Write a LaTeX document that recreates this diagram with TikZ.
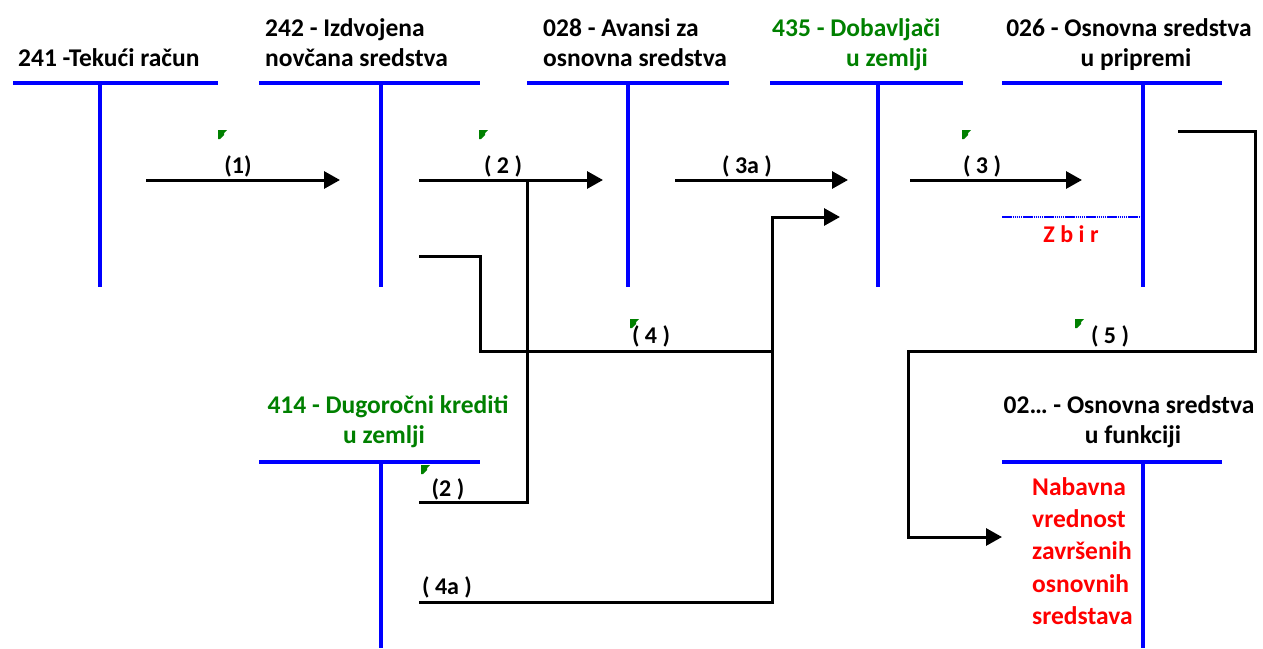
\documentclass[tikz,border=0pt]{standalone}
\usepackage{fontspec}
\setmainfont{Carlito}
\usetikzlibrary{arrows.meta}
\definecolor{tblue}{RGB}{0,0,255}
\definecolor{tgreen}{RGB}{0,128,0}
\definecolor{tred}{RGB}{255,0,0}

\begin{document}
\begin{tikzpicture}[x=1pt,y=-1pt,
  tline/.style={tblue, line width=4pt},
  flow/.style={black, line width=3pt},
  arr/.style={flow, -{Triangle[length=16pt,width=17pt]}},
  title/.style={font=\fontsize{25.5}{30}\selectfont\bfseries, inner sep=0pt},
  lbl/.style={font=\fontsize{24}{26}\selectfont\bfseries, inner sep=0pt},
  flag/.style={fill=tgreen, draw=none},
]
\useasboundingbox (0,0) rectangle (1263,648);

% ---------- T-accounts ----------
% 241
\coordinate (a1l) at (13,83);  \coordinate (a1r) at (218,83);
\coordinate (a1t) at (100,83); \coordinate (a1b) at (100,287);
\draw[tline] (a1l) -- (a1r); \draw[tline] (a1t) -- (a1b);
\node[title, anchor=base west] (t241) at (18,66) {241 -Tekući račun};

% 242
\coordinate (a2l) at (259,83); \coordinate (a2r) at (480,83);
\coordinate (a2t) at (381,83); \coordinate (a2b) at (381,287);
\draw[tline] (a2l) -- (a2r); \draw[tline] (a2t) -- (a2b);
\node[title, anchor=base west] (t242a) at (265,36) {242 - Izdvojena};
\node[title, anchor=base west] (t242b) at (265,66) {novčana sredstva};

% 028
\coordinate (a3l) at (527,83); \coordinate (a3r) at (729,83);
\coordinate (a3t) at (628,83); \coordinate (a3b) at (628,287);
\draw[tline] (a3l) -- (a3r); \draw[tline] (a3t) -- (a3b);
\node[title, anchor=base west] (t028a) at (543,36) {028 - Avansi za};
\node[title, anchor=base west] (t028b) at (543,66) {osnovna sredstva};

% 435
\coordinate (a4l) at (770,83); \coordinate (a4r) at (963,83);
\coordinate (a4t) at (878,83); \coordinate (a4b) at (878,287);
\draw[tline] (a4l) -- (a4r); \draw[tline] (a4t) -- (a4b);
\node[title, text=tgreen, anchor=base west] (t435a) at (772,36) {435 - Dobavljači};
\node[title, text=tgreen, anchor=base west] (t435b) at (846,66) {u zemlji};

% 026
\coordinate (a5l) at (1002,83); \coordinate (a5r) at (1222,83);
\coordinate (a5t) at (1143,83); \coordinate (a5b) at (1143,287);
\draw[tline] (a5l) -- (a5r); \draw[tline] (a5t) -- (a5b);
\node[title, anchor=base] (t026a) at (1129,36) {026 - Osnovna sredstva};
\node[title, anchor=base] (t026b) at (1136,66) {u pripremi};
\coordinate (zl) at (1002,217); \coordinate (zr) at (1143,217);
\draw[tblue, line width=2pt, dash pattern=on 1.5pt off 0.6pt] (zl) -- (zr);
\node[lbl, text=tred, anchor=base] (zbir) at (1071,242) {Z b i r};

% 414
\coordinate (a6l) at (259,462); \coordinate (a6r) at (480,462);
\coordinate (a6t) at (381,462); \coordinate (a6b) at (381,648);
\draw[tline] (a6l) -- (a6r); \draw[tline] (a6t) -- (a6b);
\node[title, text=tgreen, anchor=base] (t414a) at (388,413) {414 - Dugoročni krediti};
\node[title, text=tgreen, anchor=base] (t414b) at (384,443) {u zemlji};

% 02...
\coordinate (a7l) at (1002,462); \coordinate (a7r) at (1222,462);
\coordinate (a7t) at (1143,462); \coordinate (a7b) at (1143,648);
\draw[tline] (a7l) -- (a7r); \draw[tline] (a7t) -- (a7b);
\node[title, anchor=base] (t02a) at (1129,413) {02… - Osnovna sredstva};
\node[title, anchor=base] (t02b) at (1133,443) {u funkciji};
\node[title, text=tred, anchor=north west, align=left,
      font=\fontsize{25.5}{32.3}\selectfont\bfseries] (nab) at (1032,477)
  {Nabavna\\vrednost\\završenih\\osnovnih\\sredstava};

% ---------- Postings ----------
% (1)
\coordinate (p1s) at (146,180); \coordinate (p1e) at (340,180);
\draw[arr] (p1s) -- (p1e);
\node[lbl, anchor=base] (l1) at (238,173) {(1)};

% (2)
\coordinate (p2s) at (419,180); \coordinate (p2e) at (603,180);
\coordinate (p2j) at (527,180); \coordinate (p2c) at (527,502);
\coordinate (p2k) at (419,502);
\draw[arr] (p2s) -- (p2e);
\draw[flow] (p2j) -- (p2c) -- (p2k);
\node[lbl, anchor=base] (l2) at (503,173) {( 2 )};
\node[lbl, anchor=base] (l2b) at (448,496) {(2 )};

% (3a)
\coordinate (p3as) at (675,180); \coordinate (p3ae) at (848,180);
\draw[arr] (p3as) -- (p3ae);
\node[lbl, anchor=base] (l3a) at (747,173) {( 3a )};

% (3)
\coordinate (p3s) at (910,180); \coordinate (p3e) at (1082,180);
\draw[arr] (p3s) -- (p3e);
\node[lbl, anchor=base] (l3) at (982,173) {( 3 )};

% (4)
\coordinate (p4s) at (419,256); \coordinate (p4a) at (480,256);
\coordinate (p4b) at (480,351); \coordinate (p4e) at (772,351);
\draw[flow] (p4s) -- (p4a) -- (p4b) -- (p4e);
\node[lbl, anchor=base] (l4) at (651,343) {( 4 )};

% (4a)
\coordinate (p4as) at (419,602); \coordinate (p4aa) at (772,602);
\coordinate (p4ab) at (772,217); \coordinate (p4ae) at (840,217);
\draw[arr] (p4as) -- (p4aa) -- (p4ab) -- (p4ae);
\node[lbl, anchor=base] (l4a) at (447,594) {( 4a )};

% (5)
\coordinate (p5s) at (1178,131); \coordinate (p5a) at (1255,131);
\coordinate (p5b) at (1255,351); \coordinate (p5c) at (908,351);
\coordinate (p5d) at (908,537); \coordinate (p5e) at (1002,537);
\draw[arr] (p5s) -- (p5a) -- (p5b) -- (p5c) -- (p5d) -- (p5e);
\node[lbl, anchor=base] (l5) at (1110,343) {( 5 )};

% ---------- small green corner flags ----------
\foreach \fx/\fy in {218/130, 479/130, 962/130, 630/319, 1075/319, 421/465}
  \fill[flag] (\fx,\fy) -- ++(9,0) -- ++(-3,3) -- ++(0,2) -- ++(-4,4) -- ++(-2,0) -- cycle;
\end{tikzpicture}
\end{document}
